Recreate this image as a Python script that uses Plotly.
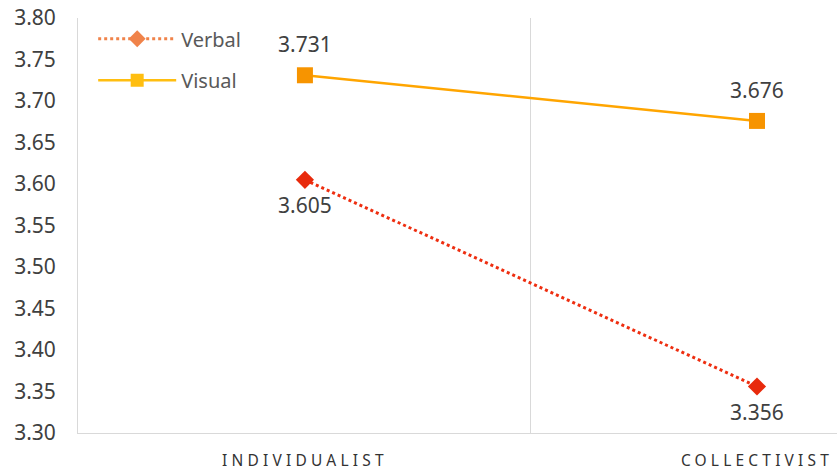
import plotly.graph_objects as go

categories = ["INDIVIDUALIST", "COLLECTIVIST"]
x_pos = [0, 1]
verbal = [3.605, 3.356]
visual = [3.731, 3.676]
y_ticks = [3.30, 3.35, 3.40, 3.45, 3.50, 3.55, 3.60, 3.65, 3.70, 3.75, 3.80]

FONT = "Noto Sans"

fig = go.Figure()

fig.add_trace(go.Scatter(
    x=x_pos, y=verbal, mode="lines+markers", name="Verbal",
    line=dict(color="#EE2E10", width=3, dash="dot"),
    marker=dict(symbol="diamond", size=14, color="#E82A0C"),
    showlegend=False,
))
fig.add_trace(go.Scatter(
    x=x_pos, y=visual, mode="lines+markers", name="Visual",
    line=dict(color="#FFA500", width=2.5),
    marker=dict(symbol="square", size=16, color="#F79400"),
    showlegend=False,
))
# legend entries (styled as in the reference legend)
fig.add_trace(go.Scatter(
    x=[None], y=[None], mode="lines+markers", name="Verbal",
    line=dict(color="#F0834A", width=3, dash="dot"),
    marker=dict(symbol="diamond", size=13, color="#F0834A"),
    legend="legend",
))
fig.add_trace(go.Scatter(
    x=[None], y=[None], mode="lines+markers", name="Visual",
    line=dict(color="#FFBE10", width=2.5),
    marker=dict(symbol="square", size=13, color="#FFBE10"),
    legend="legend2",
))

annotations = []
for xv, v in zip(x_pos, visual):
    annotations.append(dict(x=xv, y=v, text=f"{v:.3f}", showarrow=False,
                            yshift=31, font=dict(family=FONT, size=21, color="#404040")))
for xv, v in zip(x_pos, verbal):
    annotations.append(dict(x=xv, y=v, text=f"{v:.3f}", showarrow=False,
                            yshift=-25, font=dict(family=FONT, size=21, color="#404040")))

legend_common = dict(
    font=dict(family=FONT, size=20, color="#595959"),
    bgcolor="rgba(0,0,0,0)", xanchor="left", yanchor="middle",
    itemwidth=78,
)
fig.update_layout(
    width=837, height=474,
    margin=dict(l=78, r=0, t=18, b=41),
    paper_bgcolor="white", plot_bgcolor="white",
    annotations=annotations,
    legend=dict(x=0.02, y=0.95, **legend_common),
    legend2=dict(x=0.02, y=0.85, **legend_common),
    xaxis=dict(
        range=[-0.502, 1.177], tickvals=x_pos, ticktext=categories,
        showgrid=False, zeroline=False, automargin=False,
        showline=True, linecolor="#D9D9D9", linewidth=1,
        ticklabelstandoff=13,
        tickfont=dict(family=FONT, size=15.5, color="#333333"),
        minor=dict(tickvals=[0.5], showgrid=True, gridcolor="#D9D9D9", gridwidth=1),
    ),
    yaxis=dict(
        range=[3.30, 3.80], tickvals=y_ticks,
        ticktext=[f"{v:.2f}" for v in y_ticks],
        showgrid=False, zeroline=False, automargin=False,
        showline=True, linecolor="#D9D9D9", linewidth=1,
        ticklabelstandoff=17, ticklabeloverflow="allow",
        tickfont=dict(family=FONT, size=21, color="#404040"),
    ),
)

post = """
document.body.style.margin = '0';
document.body.style.padding = '0';
var s = document.createElement('style');
s.textContent = '.xtick text { letter-spacing: 4.2px; }';
document.head.appendChild(s);
"""
fig.write_html("out.html", post_script=post, config={"displayModeBar": False})
